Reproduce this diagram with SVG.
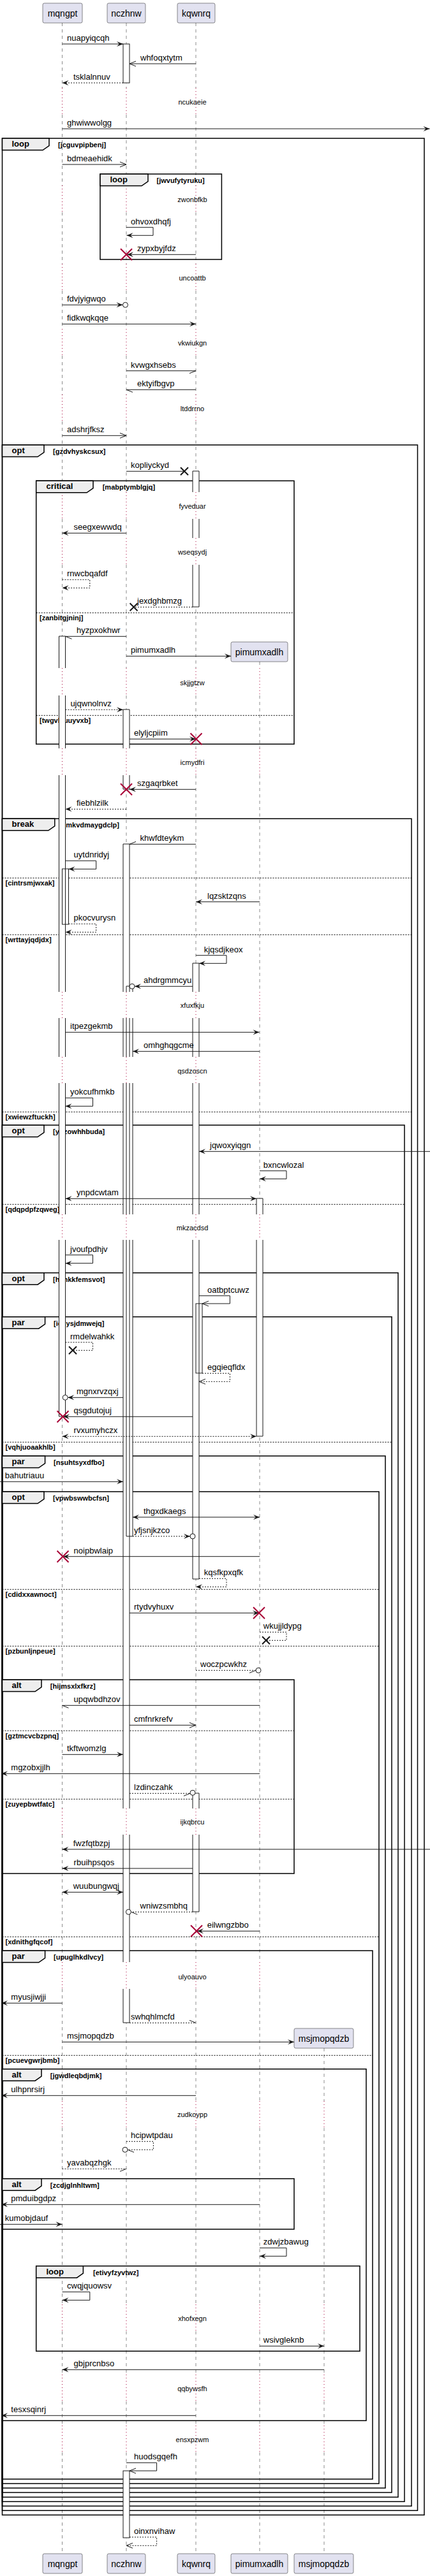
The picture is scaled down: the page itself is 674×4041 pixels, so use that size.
<svg xmlns="http://www.w3.org/2000/svg" width="674" height="4041" viewBox="0 0 674 4041">
<defs>
<style>
text{font-family:"Liberation Sans",Arial,sans-serif;font-size:13px;fill:#000}
.p{font-size:14px}
.d{font-size:11px}
.g{font-size:13px;font-weight:bold}
.c{font-size:11px;font-weight:bold}
.ll{stroke:#181818;stroke-width:0.5;stroke-dasharray:5,5;fill:none}
.dl{stroke:#A80036;stroke-width:1;stroke-dasharray:1,4;fill:none}
.m{stroke:#181818;stroke-width:1;fill:none}
.md{stroke:#181818;stroke-width:1;fill:none;stroke-dasharray:2,2}
.aw{fill:#fff;stroke:none}
.ao{fill:none;stroke:#181818;stroke-width:1}
.fr{fill:none;stroke:#000;stroke-width:1.5}
.tab{fill:#EEEEEE;stroke:#000;stroke-width:1.5}
.dv{fill:none;stroke:#000;stroke-width:1;stroke-dasharray:2,2}
.xr{fill:none;stroke:#A80036;stroke-width:2}
.xb{fill:none;stroke:#181818;stroke-width:2}
.box{fill:#E2E2F0;stroke:#181818;stroke-width:0.5}
.ci{fill:#fff;stroke:#181818;stroke-width:1}
</style>
<marker id="fh" markerWidth="10" markerHeight="8" refX="10" refY="4" orient="auto-start-reverse" markerUnits="userSpaceOnUse" style="overflow:visible"><path d="M0,0 L10,4 L0,8 L4,4 Z" fill="#181818"/></marker>
<marker id="oh" markerWidth="10" markerHeight="8" refX="10" refY="4" orient="auto-start-reverse" markerUnits="userSpaceOnUse" style="overflow:visible"><path d="M0,0 L10,4 L0,8" fill="none" stroke="#181818" stroke-width="1"/></marker>
<marker id="hp" markerWidth="10" markerHeight="8" refX="10" refY="4" orient="auto" markerUnits="userSpaceOnUse" style="overflow:visible"><path d="M0,8 L10,4" fill="none" stroke="#181818" stroke-width="1"/></marker>
<marker id="hn" markerWidth="10" markerHeight="8" refX="10" refY="4" orient="auto" markerUnits="userSpaceOnUse" style="overflow:visible"><path d="M0,0 L10,4" fill="none" stroke="#181818" stroke-width="1"/></marker>
<path id="xr" class="xr" d="M-9,-9 L9,9 M-9,9 L9,-9"/>
<path id="xb" class="xb" d="M-6,-6 L6,6 M-6,6 L6,-6"/>
<path id="lld" class="ll" d="M0,36V138M0,180V291M0,333V414M0,456V516M0,558V619M0,661V772M0,814V844M0,886V1048M0,1091V1174M0,1216V1556M0,1597V1658M0,1699V1905M0,1945V2837M0,2878V3078M0,3120V3296M0,3338V3615M0,3657V3725M0,3767V3805M0,3847V4006"/>
<path id="llt" class="dl" d="M0,138V180M0,291V333M0,414V456M0,516V558M0,619V661M0,772V814M0,844V886M0,1048V1091M0,1174V1216M0,1556V1597M0,1658V1699M0,1905V1945M0,2837V2878M0,3078V3120M0,3296V3338M0,3615V3657M0,3725V3767M0,3805V3847"/>
</defs>
<rect x="0" y="0" width="674" height="4041" fill="#fff"/>

<g id="lifelines">
<use href="#lld" x="97.5"/><use href="#llt" x="97.5"/>
<use href="#lld" x="198"/><use href="#llt" x="198"/>
<use href="#lld" x="307"/><use href="#llt" x="307"/>
<path class="ll" d="M407,1038V1048M407,1091V1174M407,1216V1556M407,1597V1658M407,1699V1905M407,1945V2837M407,2878V3078M407,3120V3296M407,3338V3615M407,3657V3725M407,3767V3805M407,3847V4006"/>
<path class="dl" d="M407,1048V1091M407,1174V1216M407,1556V1597M407,1658V1699M407,1905V1945M407,2837V2878M407,3078V3120M407,3296V3338M407,3615V3657M407,3725V3767M407,3805V3847"/>
<path class="ll" d="M508,3213V3296M508,3338V3615M508,3657V3725M508,3767V3805M508,3847V4006"/>
<path class="dl" d="M508,3296V3338M508,3615V3657M508,3725V3767M508,3805V3847"/>
</g>

<g id="delays">
<text class="d" x="301.5" y="164.3" text-anchor="middle">ncukaeie</text>
<text class="d" x="301.5" y="317.3" text-anchor="middle">zwonbfkb</text>
<text class="d" x="301.5" y="440.3" text-anchor="middle">uncoattb</text>
<text class="d" x="301.5" y="542.3" text-anchor="middle">vkwiukgn</text>
<text class="d" x="301.5" y="645" text-anchor="middle">ltddrrno</text>
<text class="d" x="301.5" y="798.3" text-anchor="middle">fyveduar</text>
<text class="d" x="301.5" y="870.3" text-anchor="middle">wseqsydj</text>
<text class="d" x="301.5" y="1075" text-anchor="middle">skjjgtzw</text>
<text class="d" x="301.5" y="1200.3" text-anchor="middle">icmydfri</text>
<text class="d" x="301.5" y="1581.3" text-anchor="middle">xfuxfkju</text>
<text class="d" x="301.5" y="1683.7" text-anchor="middle">qsdzoscn</text>
<text class="d" x="301.5" y="1930" text-anchor="middle">mkzacdsd</text>
<text class="d" x="301.5" y="2862.3" text-anchor="middle">ijkqbrcu</text>
<text class="d" x="301.5" y="3104.7" text-anchor="middle">ulyoauvo</text>
<text class="d" x="301.5" y="3321.3" text-anchor="middle">zudkoypp</text>
<text class="d" x="301.5" y="3641.3" text-anchor="middle">xhofxegn</text>
<text class="d" x="301.5" y="3751.3" text-anchor="middle">qqbywsfh</text>
<text class="d" x="301.5" y="3830.7" text-anchor="middle">ensxpzwm</text>
</g>

<g id="f1">
<rect class="fr" x="3.5" y="217" width="661.5" height="3728.3"/>
<polygon class="tab" points="3.5,217 77,217 77,228.5 67,235.5 3.5,235.5"/>
<text class="g" x="18.5" y="230">loop</text><text class="c" x="91" y="231">[jcguvpipbenj]</text>
</g>
<g id="f2">
<rect class="fr" x="157" y="273" width="190.4" height="134"/>
<polygon class="tab" points="157,273 232,273 232,284.5 222,291.5 157,291.5"/>
<text class="g" x="172.5" y="286">loop</text><text class="c" x="245.5" y="287">[jwvufytyruku]</text>
</g>
<g id="f3">
<rect class="fr" x="3.5" y="698" width="651" height="3240.3"/>
<polygon class="tab" points="3.5,698 69,698 69,709.5 59,716.5 3.5,716.5"/>
<text class="g" x="18.5" y="711">opt</text><text class="c" x="83" y="712">[gzdvhyskcsux]</text>
</g>
<g id="f4">
<rect class="fr" x="56.7" y="754.3" width="404.3" height="413"/>
<polygon class="tab" points="56.7,754.3 146,754.3 146,765.8 136,772.8 56.7,772.8"/>
<text class="g" x="72.5" y="767.3">critical</text><text class="c" x="160.7" y="768.3">[mabptymblgjq]</text>
<path class="dv" d="M56.7,961.3H461M56.7,1122.3H461"/>
<text class="c" x="62" y="972.8">[zanbitgjninj]</text>
<text class="c" x="62" y="1133.8">[twgvlyuuyvxb]</text>
</g>
<g id="f5">
<rect class="fr" x="3.5" y="1284.3" width="641.5" height="2647"/>
<polygon class="tab" points="3.5,1284.3 85.8,1284.3 85.8,1295.8 75.8,1302.8 3.5,1302.8"/>
<text class="g" x="18.5" y="1297.3">break</text><text class="c" x="99.6" y="1298.3">[mkvdmaygdclp]</text>
<path class="dv" d="M3.5,1377.3H645M3.5,1466.3H645M3.5,1744.3H645"/>
<text class="c" x="8.5" y="1388.8">[cintrsmjwxak]</text>
<text class="c" x="8.5" y="1477.8">[wrttayjqdjdx]</text>
<text class="c" x="8.5" y="1755.8">[xwiewzftuckh]</text>
</g>
<g id="f6">
<rect class="fr" x="3.5" y="1765" width="630.5" height="2159.3"/>
<polygon class="tab" points="3.5,1765 69,1765 69,1776.5 59,1783.5 3.5,1783.5"/>
<text class="g" x="18.5" y="1778">opt</text><text class="c" x="83" y="1779">[yrjzowhhbuda]</text>
<path class="dv" d="M3.5,1889.3H634"/>
<text class="c" x="8.5" y="1900.8">[qdqpdpfzqweg]</text>
</g>
<g id="f7">
<rect class="fr" x="3.5" y="1996.7" width="620.5" height="1920.6"/>
<polygon class="tab" points="3.5,1996.7 69,1996.7 69,2008.2 59,2015.2 3.5,2015.2"/>
<text class="g" x="18.5" y="2009.7">opt</text><text class="c" x="83" y="2010.7">[hcnkkfemsvot]</text>
</g>
<g id="f8">
<rect class="fr" x="3.5" y="2065.7" width="610.5" height="1844.3"/>
<polygon class="tab" points="3.5,2065.7 70.6,2065.7 70.6,2077.2 60.6,2084.2 3.5,2084.2"/>
<text class="g" x="18.5" y="2078.7">par</text><text class="c" x="84" y="2079.7">[ichysjdmwejq]</text>
<path class="dv" d="M3.5,2262.3H614"/>
<text class="c" x="8.5" y="2273.8">[vqhjuoaakhlb]</text>
</g>
<g id="f9">
<rect class="fr" x="3.5" y="2284" width="600.5" height="1619"/>
<polygon class="tab" points="3.5,2284 70.6,2284 70.6,2295.5 60.6,2302.5 3.5,2302.5"/>
<text class="g" x="18.5" y="2297">par</text><text class="c" x="84" y="2298">[nsuhtsyxdfbo]</text>
</g>
<g id="f10">
<rect class="fr" x="3.5" y="2340" width="590.5" height="1556"/>
<polygon class="tab" points="3.5,2340 69,2340 69,2351.5 59,2358.5 3.5,2358.5"/>
<text class="g" x="18.5" y="2353">opt</text><text class="c" x="83" y="2354">[vpwbswwbcfsn]</text>
<path class="dv" d="M3.5,2493.3H594M3.5,2582.3H594M3.5,3038.3H594"/>
<text class="c" x="8.5" y="2504.8">[cdidxxawnoct]</text>
<text class="c" x="8.5" y="2593.8">[pzbunljnpeue]</text>
<text class="c" x="8.5" y="3049.8">[xdnithgfqcof]</text>
</g>
<g id="f11">
<rect class="fr" x="3.5" y="2635" width="457.5" height="304"/>
<polygon class="tab" points="3.5,2635 65,2635 65,2646.5 55,2653.5 3.5,2653.5"/>
<text class="g" x="18.5" y="2648">alt</text><text class="c" x="78.8" y="2649">[hijmsxlxfkrz]</text>
<path class="dv" d="M3.5,2715H461M3.5,2822.3H461"/>
<text class="c" x="8.5" y="2726.5">[gztmcvcbzpnq]</text>
<text class="c" x="8.5" y="2833.8">[zuyepbwtfatc]</text>
</g>
<g id="f12">
<rect class="fr" x="3.5" y="3060" width="580.5" height="829"/>
<polygon class="tab" points="3.5,3060 70.6,3060 70.6,3071.5 60.6,3078.5 3.5,3078.5"/>
<text class="g" x="18.5" y="3073">par</text><text class="c" x="84" y="3074">[upuglhkdlvcy]</text>
<path class="dv" d="M3.5,3224.3H584"/>
<text class="c" x="8.5" y="3235.8">[pcuevgwrjbmb]</text>
</g>
<g id="f13">
<rect class="fr" x="3.5" y="3245.7" width="570.5" height="551.6"/>
<polygon class="tab" points="3.5,3245.7 65,3245.7 65,3257.2 55,3264.2 3.5,3264.2"/>
<text class="g" x="18.5" y="3258.7">alt</text><text class="c" x="78.8" y="3259.7">[jgwdleqbdjmk]</text>
</g>
<g id="f14">
<rect class="fr" x="3.5" y="3417.7" width="457.5" height="79.3"/>
<polygon class="tab" points="3.5,3417.7 65,3417.7 65,3429.2 55,3436.2 3.5,3436.2"/>
<text class="g" x="18.5" y="3430.7">alt</text><text class="c" x="78.8" y="3431.7">[zcdjglnhltwm]</text>
</g>
<g id="f15">
<rect class="fr" x="56.7" y="3554.7" width="507.3" height="133.6"/>
<polygon class="tab" points="56.7,3554.7 130.4,3554.7 130.4,3566.2 120.4,3573.2 56.7,3573.2"/>
<text class="g" x="72.5" y="3567.7">loop</text><text class="c" x="146" y="3568.7">[etivyfzyvtwz]</text>
</g>

<g id="p-mqngpt">
<rect class="box" x="67" y="5" width="62" height="31" rx="2.5"/><text class="p" x="98" y="26" text-anchor="middle">mqngpt</text>
<rect class="box" x="67" y="4006" width="62" height="31" rx="2.5"/><text class="p" x="98" y="4027" text-anchor="middle">mqngpt</text>
</g>
<g id="p-nczhnw">
<rect class="box" x="168" y="5" width="60" height="31" rx="2.5"/><text class="p" x="198" y="26" text-anchor="middle">nczhnw</text>
<rect class="box" x="168" y="4006" width="60" height="31" rx="2.5"/><text class="p" x="198" y="4027" text-anchor="middle">nczhnw</text>
</g>
<g id="p-kqwnrq">
<rect class="box" x="278" y="5" width="59" height="31" rx="2.5"/><text class="p" x="307.5" y="26" text-anchor="middle">kqwnrq</text>
<rect class="box" x="278" y="4006" width="59" height="31" rx="2.5"/><text class="p" x="307.5" y="4027" text-anchor="middle">kqwnrq</text>
</g>
<g id="p-pimumxadlh">
<rect class="box" x="362" y="1007" width="89" height="31" rx="2.5"/><text class="p" x="406.5" y="1028" text-anchor="middle">pimumxadlh</text>
<rect class="box" x="362" y="4006" width="89" height="31" rx="2.5"/><text class="p" x="406.5" y="4027" text-anchor="middle">pimumxadlh</text>
</g>
<g id="p-msjmopqdzb">
<rect class="box" x="461" y="3182" width="93" height="31" rx="2.5"/><text class="p" x="507.5" y="3203" text-anchor="middle">msjmopqdzb</text>
<rect class="box" x="461" y="4006" width="93" height="31" rx="2.5"/><text class="p" x="507.5" y="4027" text-anchor="middle">msjmopqdzb</text>
</g>

<g id="activations">
<rect class="aw" x="92.5" y="998" width="10" height="50"/><rect class="aw" x="92.5" y="1091" width="10" height="83"/><rect class="aw" x="92.5" y="1216" width="10" height="340"/><rect class="aw" x="92.5" y="1597" width="10" height="61"/><rect class="aw" x="92.5" y="1699" width="10" height="206"/><rect class="aw" x="92.5" y="1945" width="10" height="277"/>
<rect class="aw" x="97.5" y="1363" width="10" height="87"/>
<rect class="aw" x="193" y="69" width="10" height="61"/>
<rect class="aw" x="193" y="1113" width="10" height="61"/><rect class="aw" x="193" y="1216" width="10" height="22"/>
<rect class="aw" x="193" y="1324" width="10" height="232"/><rect class="aw" x="193" y="1597" width="10" height="61"/><rect class="aw" x="193" y="1699" width="10" height="206"/><rect class="aw" x="193" y="1945" width="10" height="892"/><rect class="aw" x="193" y="2878" width="10" height="200"/><rect class="aw" x="193" y="3120" width="10" height="53"/>
<rect class="aw" x="198" y="1547" width="10" height="9"/><rect class="aw" x="198" y="1597" width="10" height="61"/><rect class="aw" x="198" y="1699" width="10" height="206"/><rect class="aw" x="198" y="1945" width="10" height="465"/>
<rect class="aw" x="193" y="3876" width="10" height="105"/>
<rect class="aw" x="302" y="739" width="10" height="33"/><rect class="aw" x="302" y="814" width="10" height="30"/><rect class="aw" x="302" y="886" width="10" height="66"/>
<rect class="aw" x="302" y="1511" width="10" height="45"/><rect class="aw" x="302" y="1597" width="10" height="61"/><rect class="aw" x="302" y="1699" width="10" height="206"/><rect class="aw" x="302" y="1945" width="10" height="532"/>
<rect class="aw" x="307" y="2045" width="10" height="109"/>
<rect class="aw" x="302" y="2813" width="10" height="24"/><rect class="aw" x="302" y="2878" width="10" height="121"/>
<rect class="aw" x="402" y="1880" width="10" height="25"/><rect class="aw" x="402" y="1945" width="10" height="308"/>
<path class="ao" d="M92.5,1048V998H102.5V1048M92.5,1091V1174M102.5,1091V1174M92.5,1216V1556M102.5,1216V1556M92.5,1597V1658M102.5,1597V1658M92.5,1699V1905M102.5,1699V1905M92.5,1945V2222H102.5V1945"/>
<rect class="ao" x="97.5" y="1363" width="10" height="87"/>
<rect class="ao" x="193" y="69" width="10" height="61"/>
<path class="ao" d="M193,1174V1113H203V1174M193,1216V1238H203V1216"/>
<path class="ao" d="M193,1556V1324H203V1556M193,1597V1658M203,1597V1658M193,1699V1905M203,1699V1905M193,1945V2837M203,1945V2837M193,2878V3078M203,2878V3078M193,3120V3173H203V3120"/>
<path class="ao" d="M198,1556V1547H208V1556M198,1597V1658M208,1597V1658M198,1699V1905M208,1699V1905M198,1945V2410H208V1945"/>
<rect class="ao" x="193" y="3876" width="10" height="105"/>
<path class="ao" d="M302,772V739H312V772M302,814V844M312,814V844M302,886V952H312V886"/>
<path class="ao" d="M302,1556V1511H312V1556M302,1597V1658M312,1597V1658M302,1699V1905M312,1699V1905M302,1945V2477H312V1945"/>
<rect class="ao" x="307" y="2045" width="10" height="109"/>
<path class="ao" d="M302,2837V2813H312V2837M302,2878V2999H312V2878"/>
<path class="ao" d="M402,1905V1880H412V1905M402,1945V2253H412V1945"/>
</g>

<g id="connectors">
<path class="m" d="M97.5,69H193" marker-end="url(#fh)"/><text x="105" y="64">nuapyiqcqh</text>
<path class="m" d="M307,100H203" marker-end="url(#oh)"/><text x="220" y="95">whfoqxtytm</text>
<path class="md" d="M193,130H97.5" marker-end="url(#fh)"/><text x="115" y="125">tsklalnnuv</text>
<path class="m" d="M97.5,202H673.5" marker-end="url(#fh)"/><text x="105" y="197">ghwiwwolgg</text>
<path class="m" d="M97.5,258H198" marker-end="url(#oh)"/><text x="105" y="253">bdmeaehidk</text>
<path class="m" d="M198,356.7H240V369.3H198.5" marker-end="url(#fh)"/><text x="205" y="351.5">ohvoxdhqfj</text>
<path class="m" d="M307,399.3H199" marker-end="url(#fh)"/><use href="#xr" x="198" y="399.3"/><text x="215" y="394.3">zypxbyjfdz</text>
<path class="m" d="M97.5,478.3H192.5" marker-end="url(#fh)"/><circle class="ci" cx="196.5" cy="478.3" r="4"/><text x="105" y="473.3">fdvjyigwqo</text>
<path class="m" d="M97.5,508.3H307" marker-end="url(#fh)"/><text x="105" y="503.3">fidkwqkqqe</text>
<path class="m" d="M198,581.7H307" marker-end="url(#hp)"/><text x="205" y="576.7">kvwgxhsebs</text>
<path class="m" d="M307,611.3H198" marker-end="url(#hn)"/><text x="215" y="606.3">ektyifbgvp</text>
<path class="m" d="M97.5,683.3H198" marker-end="url(#oh)"/><text x="105" y="678.3">adshrjfksz</text>
<path class="m" d="M198,739.3H289"/><use href="#xb" x="289" y="739.3"/><text x="205" y="734.3">kopliyckyd</text>
<path class="m" d="M198,836.3H97.5" marker-end="url(#fh)"/><text x="115.6" y="831.3">seegxewwdq</text>
<path class="md" d="M97.5,909.3H140.8V922.3H97.5" marker-end="url(#fh)"/><text x="105" y="904.3">rnwcbqafdf</text>
<path class="md" d="M302,952.3H209.6"/><use href="#xb" x="209.6" y="952.3"/><text x="215" y="947.3">jexdghbmzg</text>
<path class="m" d="M198,998.3H102.5" marker-end="url(#hn)"/><text x="120" y="993.3">hyzpxokhwr</text>
<path class="m" d="M198,1029.3H362" marker-end="url(#fh)"/><text x="205" y="1024.3">pimumxadlh</text>
<path class="md" d="M102.5,1113.3H193" marker-end="url(#fh)"/><text x="110.4" y="1108.3">ujqwnolnvz</text>
<path class="m" d="M203,1159.3H307" marker-end="url(#fh)"/><use href="#xr" x="307.5" y="1159.3"/><text x="210" y="1154.3">elyljcpiim</text>
<path class="m" d="M307,1238.3H203" marker-end="url(#fh)"/><use href="#xr" x="198" y="1238.3"/><text x="215" y="1233.3">szgaqrbket</text>
<path class="md" d="M198,1269.3H102.5" marker-end="url(#fh)"/><text x="120" y="1264.3">fiebhlzilk</text>
<path class="m" d="M307,1324.3H203" marker-end="url(#hp)"/><text x="219.6" y="1319.3">khwfdteykm</text>
<path class="m" d="M102.5,1350.3H150.7V1363.3H107.5" marker-end="url(#fh)"/><text x="115.6" y="1345.3">uytdnridyj</text>
<path class="m" d="M407,1414.7H307" marker-end="url(#fh)"/><text x="325" y="1409.7">lqzsktzqns</text>
<path class="md" d="M107.5,1449.3H150.7V1462.3H102.5" marker-end="url(#fh)"/><text x="115.6" y="1444.3">pkocvurysn</text>
<path class="m" d="M307,1498.7H355V1511.3H312" marker-end="url(#fh)"/><text x="319.7" y="1493.7">kjqsdjkeox</text>
<path class="m" d="M302,1547.3H211" marker-end="url(#fh)"/><circle class="ci" cx="207" cy="1547.3" r="4"/><text x="225" y="1542.3">ahdrgmmcyu</text>
<path class="m" d="M102.5,1619.3H406.5" marker-end="url(#fh)"/><text x="110" y="1614.3">itpezgekmb</text>
<path class="m" d="M407,1649.3H208" marker-end="url(#fh)"/><text x="225" y="1644.3">omhghqgcme</text>
<path class="m" d="M102.5,1722.3H145.5V1735.3H102.5" marker-end="url(#fh)"/><text x="110" y="1717.3">yokcufhmkb</text>
<path class="m" d="M674,1806.3H312" marker-end="url(#fh)"/><text x="329" y="1801.3">jqwoxyiqgn</text>
<path class="m" d="M407,1836.7H449V1849.3H407" marker-end="url(#fh)"/><text x="412.8" y="1831.7">bxncwlozal</text>
<path class="m" d="M102.5,1880.3H402" marker-start="url(#fh)" marker-end="url(#fh)"/><text x="120" y="1875.3">ynpdcwtam</text>
<path class="m" d="M102.5,1968.7H145.5V1981.7H102.5" marker-end="url(#fh)"/><text x="110" y="1963.7">jvoufpdhjv</text>
<path class="m" d="M312,2032.7H360.4V2045H317" marker-end="url(#oh)"/><text x="325" y="2027.7">oatbptcuwz</text>
<path class="md" d="M102.5,2105.7H145.5V2118.3H114"/><use href="#xb" x="114" y="2118.3"/><text x="110" y="2100.7">rmdelwahkk</text>
<path class="md" d="M317,2154.3H360.4V2167.3H312" marker-end="url(#oh)"/><text x="325" y="2149.3">egqieqfldx</text>
<path class="m" d="M193,2192.3H106.2" marker-end="url(#fh)"/><circle class="ci" cx="102.2" cy="2192.3" r="4"/><text x="120" y="2187.3">mgnxrvzqxj</text>
<path class="m" d="M302,2222.3H99" marker-end="url(#fh)"/><use href="#xr" x="98.5" y="2222.3"/><text x="115.6" y="2217.3">qsgdutojuj</text>
<path class="md" d="M97.5,2253.3H402" marker-start="url(#fh)" marker-end="url(#fh)"/><text x="115.6" y="2248.3">rvxumyhczx</text>
<path class="m" d="M0,2324.3H193" marker-end="url(#fh)"/><text x="7.8" y="2319.3">bahutriauu</text>
<path class="m" d="M208,2380H407" marker-start="url(#fh)" marker-end="url(#fh)"/><text x="225" y="2375">thgxdkaegs</text>
<path class="md" d="M208,2410H298" marker-end="url(#fh)"/><circle class="ci" cx="302" cy="2410" r="4"/><text x="210" y="2405">yfjsnjkzco</text>
<path class="m" d="M407,2441.7H99" marker-end="url(#fh)"/><use href="#xr" x="98.5" y="2441.7"/><text x="115.6" y="2436.7">noipbwlaip</text>
<path class="md" d="M312,2476.3H355V2489.3H307" marker-end="url(#fh)"/><text x="319.7" y="2471.3">kqsfkpxqfk</text>
<path class="m" d="M203,2530.3H406" marker-end="url(#fh)"/><use href="#xr" x="406" y="2530.3"/><text x="210" y="2525.3">rtydvyhuxv</text>
<path class="md" d="M407,2560.3H449V2573.3H417"/><use href="#xb" x="417" y="2573.3"/><text x="412.8" y="2555.3">wkujjldypg</text>
<path class="md" d="M307,2620.3H401" marker-end="url(#hp)"/><circle class="ci" cx="405" cy="2620.3" r="4"/><text x="314" y="2615.3">woczpcwkhz</text>
<path class="m" d="M407,2675.3H97.5" marker-end="url(#hn)"/><text x="115.6" y="2670.3">upqwbdhzov</text>
<path class="m" d="M203,2706.3H307" marker-end="url(#oh)"/><text x="210" y="2701.3">cmfnrkrefv</text>
<path class="m" d="M97.5,2752.3H193" marker-end="url(#fh)"/><text x="105" y="2747.3">tkftwomzlg</text>
<path class="m" d="M407,2782.3H2" marker-end="url(#fh)"/><text x="17.3" y="2777.3">mgzobxjjlh</text>
<path class="md" d="M203,2813.3H298" marker-end="url(#hp)"/><circle class="ci" cx="302" cy="2812.3" r="4"/><text x="210" y="2808.3">lzdinczahk</text>
<path class="m" d="M674,2901H97.5" marker-end="url(#fh)"/><text x="114.7" y="2896">fwzfqtbzpj</text>
<path class="m" d="M302,2931H97.5" marker-end="url(#fh)"/><text x="115.6" y="2926">rbuihpsqos</text>
<path class="m" d="M97.5,2968.3H193" marker-start="url(#fh)" marker-end="url(#fh)"/><text x="114.7" y="2963.3">wuubungwqj</text>
<path class="md" d="M302,2999.3H205.4" marker-end="url(#hn)"/><circle class="ci" cx="201.4" cy="2999.3" r="4"/><text x="219.6" y="2994.3">wniwzsmbhq</text>
<path class="m" d="M407,3029.3H309" marker-end="url(#fh)"/><use href="#xr" x="308" y="3029.3"/><text x="324.7" y="3024.3">eilwngzbbo</text>
<path class="m" d="M97.5,3142.3H2" marker-end="url(#fh)"/><text x="17.3" y="3137.3">myusjiwjji</text>
<path class="md" d="M203,3173.3H307" marker-end="url(#hn)"/><text x="205" y="3168.3">swhqhlmcfd</text>
<path class="m" d="M97.5,3203.3H461" marker-end="url(#fh)"/><text x="105" y="3198.3">msjmopqdzb</text>
<path class="m" d="M307,3287.3H2" marker-end="url(#fh)"/><text x="17.3" y="3282.3">ulhpnrsirj</text>
<path class="md" d="M198,3359.3H240.4V3372.3H200" marker-end="url(#hn)"/><circle class="ci" cx="196" cy="3372.3" r="4"/><text x="205" y="3354.3">hcipwtpdau</text>
<path class="md" d="M97.5,3402.3H198" marker-end="url(#hp)"/><text x="105" y="3397.3">yavabqzhgk</text>
<path class="m" d="M407,3458.3H2" marker-end="url(#fh)"/><text x="17.3" y="3453.3">pmduibgdpz</text>
<path class="m" d="M0,3489.3H97.5" marker-end="url(#fh)"/><text x="7.8" y="3484.3">kumobjdauf</text>
<path class="m" d="M407,3526.3H449V3539.3H407" marker-end="url(#fh)"/><text x="412.8" y="3521.3">zdwjzbawug</text>
<path class="m" d="M97.5,3595.3H140.8V3608.3H97.5" marker-end="url(#fh)"/><text x="105" y="3590.3">cwqjquowsv</text>
<path class="m" d="M407,3680.3H508" marker-end="url(#fh)"/><text x="412.8" y="3675.3">wsivgleknb</text>
<path class="m" d="M508,3717.3H97.5" marker-end="url(#fh)"/><text x="115.6" y="3712.3">gbjprcnbso</text>
<path class="m" d="M307,3789.3H2" marker-end="url(#fh)"/><text x="17.3" y="3784.3">tesxsqinrj</text>
<path class="m" d="M198,3863.3H245.6V3876H203" marker-end="url(#oh)"/><text x="210" y="3858.3">huodsgqefh</text>
<path class="md" d="M203,3980H245.6V3993.3H198" marker-end="url(#oh)"/><text x="210" y="3975">oinxnvihaw</text>
</g>
</svg>
